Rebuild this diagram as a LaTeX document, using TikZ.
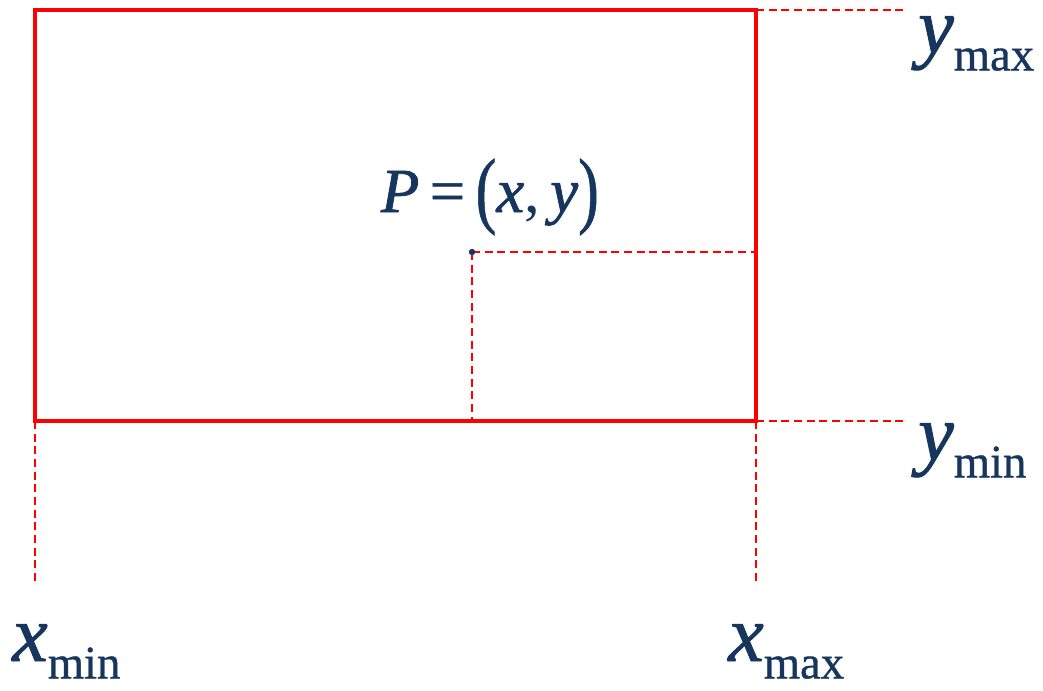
\documentclass[tikz,border=0pt]{standalone}
\usepackage{fontspec}
\setmainfont{Liberation Serif}[ItalicFont={Liberation Serif Italic},BoldFont={Liberation Serif Bold},BoldItalicFont={Liberation Serif Bold Italic}]
\newfontfamily\heavyit{Liberation Serif Italic}[FakeBold=1.2]
\newfontfamily\heavyrm{Liberation Serif}[FakeBold=0.8]
\definecolor{navy}{RGB}{23,54,93}
\definecolor{rred}{RGB}{255,0,0}
\tikzset{
  frame/.style={draw=rred, line width=3pt},
  guide/.style={draw=rred, line width=0.9pt, dash pattern=on 6pt off 3.5pt},
  lbl/.style={text=navy, inner sep=0pt, anchor=base west},
}
\newcommand{\mainlet}[1]{{\fontsize{60}{62}\selectfont\heavyit #1}}
\newcommand{\sublet}[1]{\raisebox{-13pt}{\fontsize{35}{36}\selectfont\heavyrm #1}}
\begin{document}
\begin{tikzpicture}[x=0.75pt,y=-0.75pt]
\useasboundingbox (0,0) rectangle (1043,690);
\coordinate (tl) at (35,10);
\coordinate (br) at (756,421);
\coordinate (tr) at (756,10);
\coordinate (bl) at (35,421);
\coordinate (p) at (472,252);
\coordinate (pr) at (756,252);
\coordinate (pb) at (472,421);
\coordinate (e1) at (905,10);
\coordinate (e2) at (905,421);
\coordinate (e3) at (35,585);
\coordinate (e4) at (756,585);
\draw[guide] (tr) -- (e1);
\draw[guide] (br) -- (e2);
\draw[guide] (bl) -- (e3);
\draw[guide] (br) -- (e4);
\draw[guide] (p) -- (pr);
\draw[guide] (p) -- (pb);
\draw[frame] (tl) rectangle (br);
\fill[navy] (p) circle (3.2);
\node[lbl] (ymax) at (918,53) {\mainlet{y}\sublet{max}};
\node[lbl] (ymin) at (918,460) {\mainlet{y}\sublet{min}};
\node[lbl] (xmin) at (12,661) {\mainlet{x}\sublet{min}};
\node[lbl] (xmax) at (728,661) {\mainlet{x}\sublet{max}};
\node[text=navy, inner sep=0pt, anchor=base] (plabel) at (490,212) {\fontsize{47}{50}\selectfont{\heavyit P}\,{\heavyrm =}\,\raisebox{-4pt}{\scalebox{1}[1.35]{\heavyrm (}}{\heavyit x},\,{\heavyit y}\raisebox{-4pt}{\scalebox{1}[1.35]{\heavyrm )}}};
\end{tikzpicture}
\end{document}
